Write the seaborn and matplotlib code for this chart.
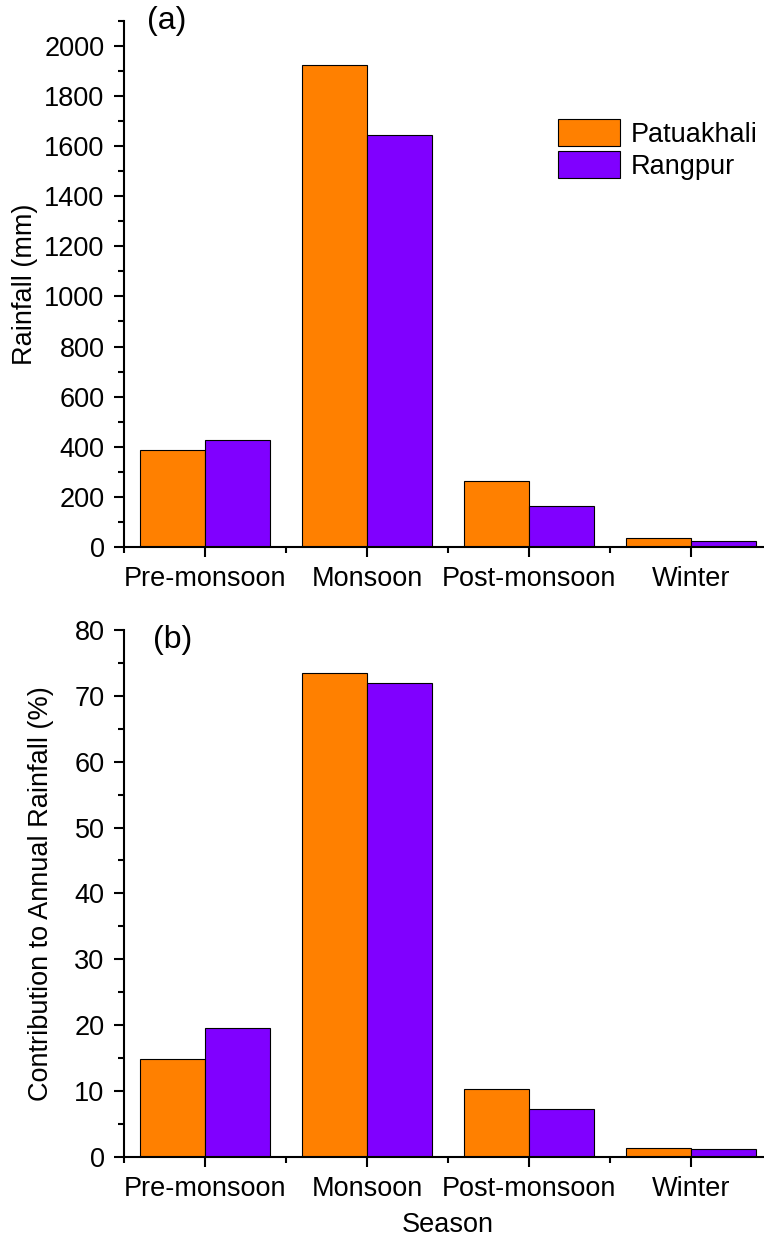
import pandas as pd
import seaborn as sns
import matplotlib.pyplot as plt
from matplotlib.ticker import MultipleLocator, FixedLocator

seasons = ["Pre-monsoon", "Monsoon", "Post-monsoon", "Winter"]
stations = ["Patuakhali", "Rangpur"]
rain_patuakhali = [388, 1922, 265, 35]
rain_rangpur = [428, 1643, 165, 23]
pct_patuakhali = [14.8, 73.4, 10.3, 1.3]
pct_rangpur = [19.6, 72.0, 7.2, 1.1]

colors = ["#FF8000", "#8000FF"]

df = pd.DataFrame({
    "Season": seasons * 2,
    "Station": [stations[0]] * 4 + [stations[1]] * 4,
    "Rainfall": rain_patuakhali + rain_rangpur,
    "Percent": pct_patuakhali + pct_rangpur,
})

sns.set_style("ticks")
plt.rcParams["font.family"] = ["Liberation Sans", "DejaVu Sans"]
plt.rcParams["axes.linewidth"] = 1.5
for k in ["text.color", "axes.labelcolor", "xtick.color", "ytick.color", "axes.edgecolor"]:
    plt.rcParams[k] = "black"

fig = plt.figure(figsize=(7.64, 12.45), dpi=100)
ax1 = fig.add_axes([0.1623, 0.5606, 0.848, 0.4228])
ax2 = fig.add_axes([0.1623, 0.0709, 0.848, 0.4231])

fs = 19.5

for ax, col, ylim, major, minor in [(ax1, "Rainfall", 2100, 200, 100),
                                     (ax2, "Percent", 80, 10, 5)]:
    sns.barplot(data=df, x="Season", y=col, hue="Station", order=seasons,
                hue_order=stations, palette=colors, width=0.8, gap=0,
                edgecolor="black", linewidth=0.8, saturation=1, ax=ax)
    ax.set_xlim(-0.5, 3.5)
    ax.set_ylim(0, ylim)
    ax.yaxis.set_major_locator(MultipleLocator(major))
    ax.yaxis.set_minor_locator(MultipleLocator(minor))
    ax.xaxis.set_minor_locator(FixedLocator([-0.5, 0.5, 1.5, 2.5, 3.5]))
    ax.tick_params(which="major", length=7.5, width=1.5, labelsize=fs, pad=6.5)
    ax.tick_params(which="minor", length=4.5, width=1.5)
    sns.despine(ax=ax)
    ax.set_xlabel("")

ax1.set_ylabel("Rainfall (mm)", fontsize=fs)
ax1.yaxis.set_label_coords(-0.132, 0.5)
ax2.set_ylabel("Contribution to Annual Rainfall (%)", fontsize=fs)
ax2.yaxis.set_label_coords(-0.108, 0.5)
ax2.set_xlabel("Season", fontsize=fs)
ax2.xaxis.set_label_coords(0.5, -0.105)

ax1.text(0.036, 1.0, "(a)", transform=ax1.transAxes, fontsize=23, va="center")
ax2.text(0.045, 0.981, "(b)", transform=ax2.transAxes, fontsize=23, va="center")

ax2.get_legend().remove()
ax1.legend(loc="upper left", bbox_to_anchor=(0.67, 0.813), frameon=False,
           fontsize=fs, handlelength=2.3, handleheight=1.15, labelspacing=0.12,
           handletextpad=0.4, borderaxespad=0, borderpad=0)

fig.savefig("out.png", dpi=100)
